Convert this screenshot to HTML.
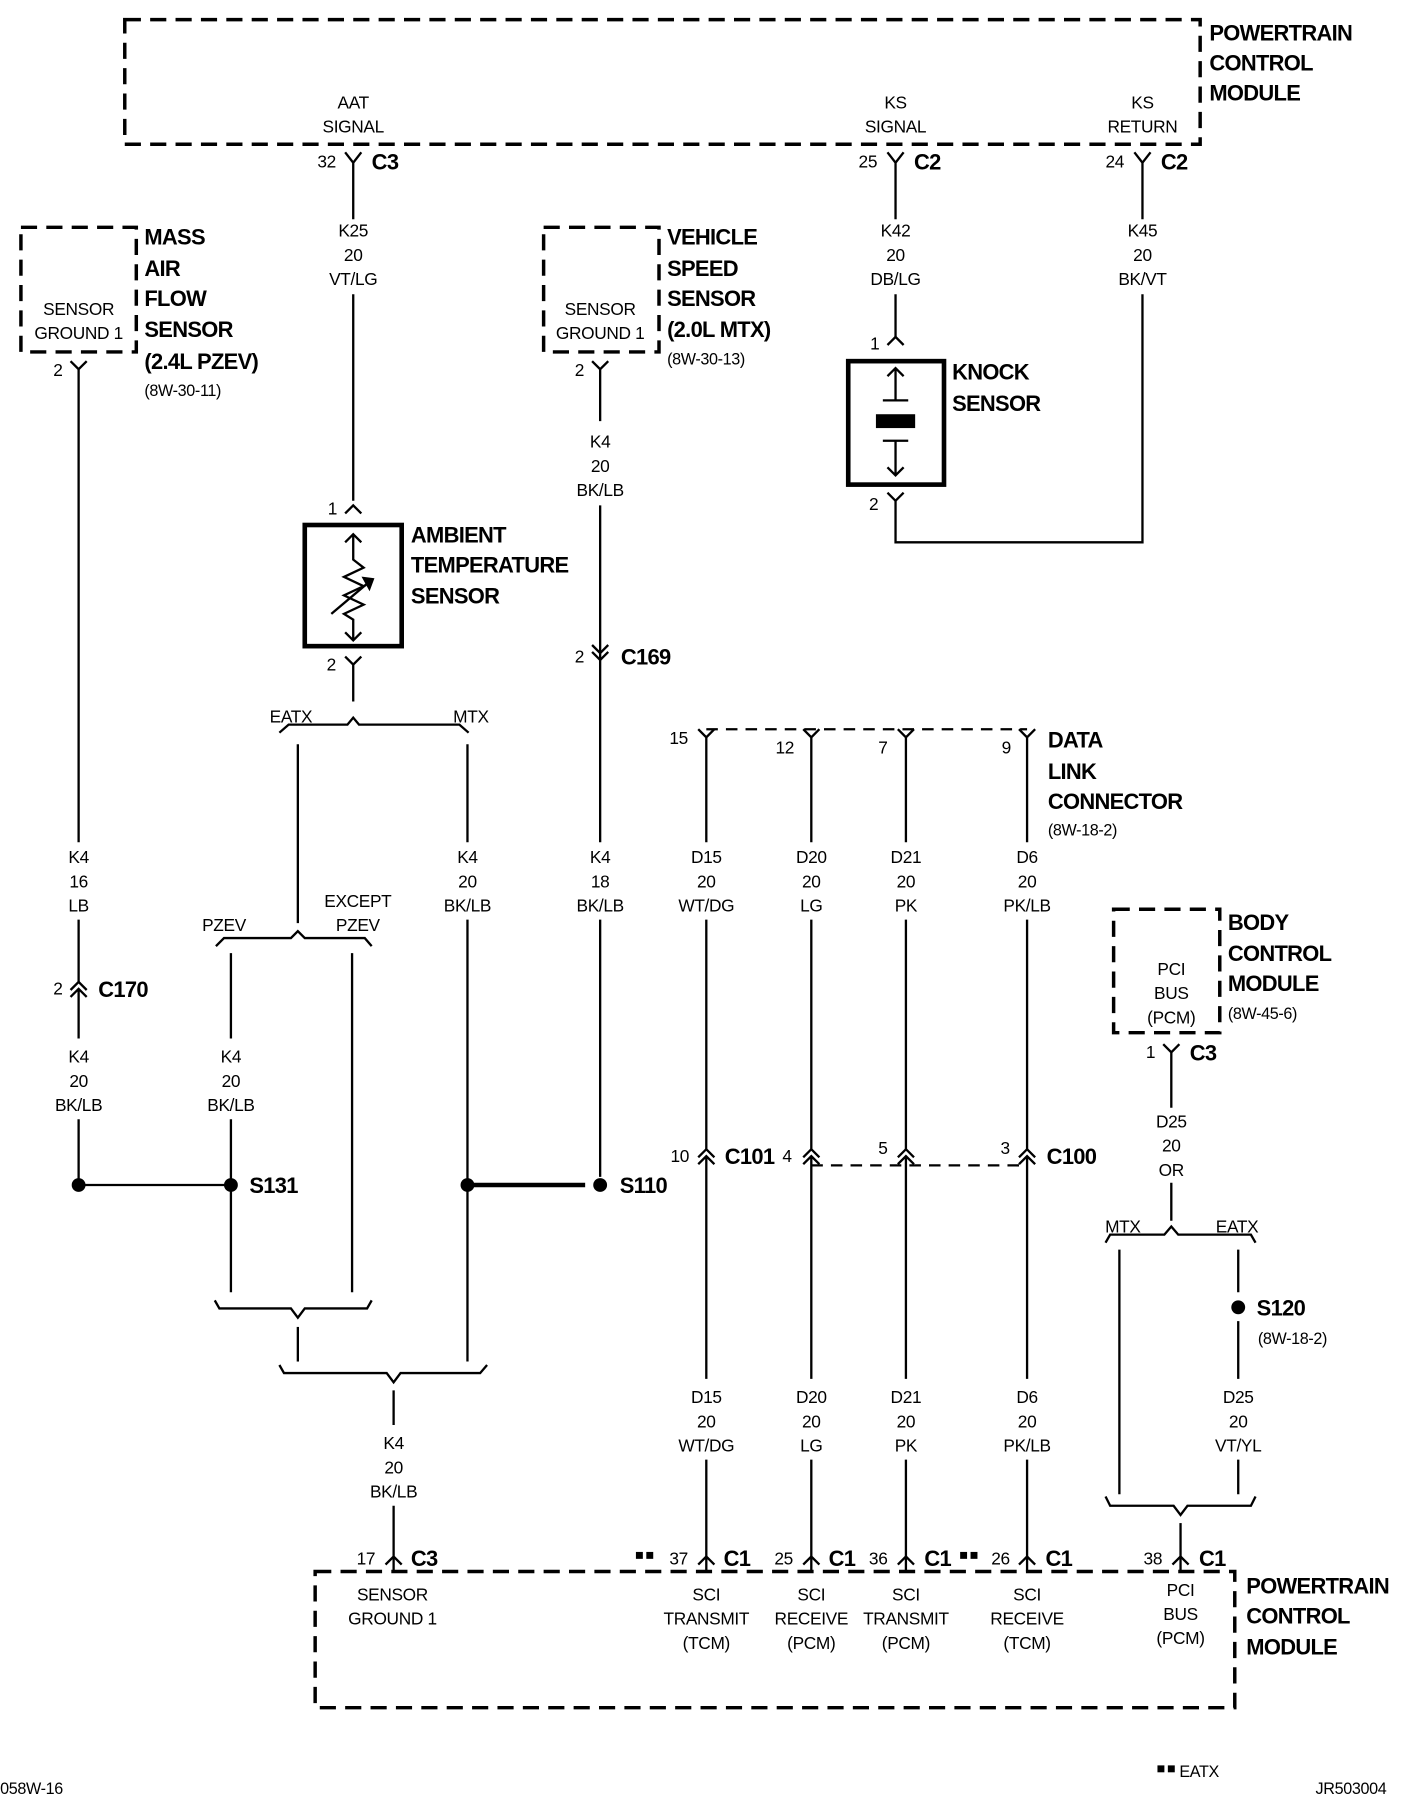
<!DOCTYPE html>
<html><head><meta charset="utf-8"><style>
html,body{margin:0;padding:0;background:#fff}
svg{display:block}
text{font-family:"Liberation Sans Narrow","Liberation Sans",sans-serif;fill:#000}
.s{font-size:15px;text-anchor:middle;letter-spacing:-0.3px}
.sl{font-size:15px}
.b{font-size:19px;font-weight:bold;letter-spacing:-0.6px}
.r{font-size:14px;letter-spacing:-0.3px}
</style></head><body>
<svg width="1408" height="1800" viewBox="0 0 1220 1560" xmlns="http://www.w3.org/2000/svg">
<g fill="none" stroke="#000" stroke-width="2">
<rect x="108" y="17" width="932" height="108" stroke-width="3" stroke-dasharray="14,8"/>
<rect x="18" y="197" width="100" height="108" stroke-width="3" stroke-dasharray="14,8"/>
<rect x="471" y="197" width="100" height="108" stroke-width="3" stroke-dasharray="14,8"/>
<rect x="965" y="788" width="92" height="107" stroke-width="3" stroke-dasharray="14,8"/>
<rect x="273" y="1362" width="797" height="118" stroke-width="3" stroke-dasharray="14,8"/>

<path d="M299,132 L306,141 L313,132 M306,141 V190 M306,255 V434"/>
<path d="M769,132 L776,141 L783,132 M776,141 V190 M776,255 V292"/>
<path d="M983,132 L990,141 L997,132 M990,141 V190 M990,255 V470 H776 V434"/>
<path d="M769,427 L776,434 L783,427"/>
<path d="M61,313 L68,320 L75,313 M68,320 V730 M68,797 V851"/>
<path d="M513,313 L520,320 L527,313 M520,320 V365 M520,438 V730 M520,797 V1020"/>
<path d="M513,559 L520,566 L527,559 M513,565 L520,572 L527,565"/>
<path d="M61,858 L68,851 L75,858 M61,864 L68,857 L75,864 M68,857 V900 M68,970 V1027"/>
<path d="M299,445 L306,438 L313,445"/>
<rect x="264" y="455" width="84" height="105" stroke-width="4"/>
<path d="M299,470 L306,463 L313,470 M306,463 V485 L315,492 L298,500 L315,508 L298,516 L315,524 L298,532 L306,537 V555 M299,548 L306,555 L313,548"/>
<path d="M287,532 L319,505"/>
<path d="M315,501 L323,502 L320,510 Z" fill="#000"/>
<path d="M299,569 L306,576 L313,569 M306,576 V608"/>
<path d="M242,635 L250,628 H301 L306,622 L311,628 H398 L406,635"/>
<path d="M258,645 V800 M405,645 V730 M405,797 V1180"/>
<path d="M187,820 L194,813 H252 L258,807 L264,813 H316 L322,820"/>
<path d="M200,826 V900 M200,970 V1120 M305,826 V1120"/>
<path d="M186,1127 L190,1134 H252 L258,1142 L264,1134 H318 L322,1127"/>
<path d="M258,1150 V1180"/>
<path d="M242,1183 L246,1190 H335 L341,1198 L347,1190 H416 L422,1183"/>
<path d="M341,1205 V1235 M341,1305 V1349 M334,1356 L341,1349 L348,1356 M341,1349 V1362"/>
<path d="M68,1027 H200"/>
<path d="M405,1027 H507" stroke-width="4"/>
<path d="M769,299 L776,292 L783,299"/>
<rect x="735" y="313" width="83" height="107" stroke-width="4"/>
<path d="M769,326 L776,319 L783,326 M776,319 V347 M765,347 H787 M765,382 H787 M776,382 V412 M769,405 L776,412 L783,405"/>
<rect x="759" y="359" width="34" height="12" fill="#000" stroke="none"/>
<path d="M612,632 H890" stroke-dasharray="10,7"/>
<path d="M605,632 L612,639 L619,632 M612,639 V730 M612,797 V996"/>
<path d="M696,632 L703,639 L710,632 M703,639 V730 M703,797 V996"/>
<path d="M778,632 L785,639 L792,632 M785,639 V730 M785,797 V996"/>
<path d="M883,632 L890,639 L897,632 M890,639 V730 M890,797 V996"/>
<path d="M605,1003 L612,996 L619,1003 M605,1009 L612,1002 L619,1009 M612,1002 V1195 M612,1265 V1349"/>
<path d="M696,1003 L703,996 L710,1003 M696,1009 L703,1002 L710,1009 M703,1002 V1195 M703,1265 V1349"/>
<path d="M778,1003 L785,996 L792,1003 M778,1009 L785,1002 L792,1009 M785,1002 V1195 M785,1265 V1349"/>
<path d="M883,1003 L890,996 L897,1003 M883,1009 L890,1002 L897,1009 M890,1002 V1195 M890,1265 V1349"/>
<path d="M703,1010 H890" stroke-dasharray="10,7"/>
<path d="M605,1356 L612,1349 L619,1356 M612,1349 V1362"/>
<path d="M696,1356 L703,1349 L710,1356 M703,1349 V1362"/>
<path d="M778,1356 L785,1349 L792,1356 M785,1349 V1362"/>
<path d="M883,1356 L890,1349 L897,1356 M890,1349 V1362"/>
<path d="M1016,1356 L1023,1349 L1030,1356 M1023,1349 V1362"/>
<path d="M1008,905 L1015,912 L1022,905 M1015,912 V960 M1015,1025 V1058"/>
<path d="M958,1077 L962,1070 H1009 L1015,1063 L1021,1070 H1084 L1088,1077"/>
<path d="M970,1083 V1295 M1073,1083 V1120 M1073,1145 V1195 M1073,1265 V1295"/>
<path d="M958,1297 L962,1305 H1017 L1023,1313 L1029,1305 H1084 L1088,1297"/>
<path d="M1023,1320 V1349"/>
</g>
<g fill="#000">
<circle cx="68" cy="1027" r="6"/><circle cx="200" cy="1027" r="6"/>
<circle cx="405" cy="1027" r="6"/><circle cx="520" cy="1027" r="6"/>
<circle cx="1073" cy="1133" r="6"/>
<rect x="551" y="1345" width="6" height="6"/><rect x="560" y="1345" width="6" height="6"/>
<rect x="832" y="1345" width="6" height="6"/><rect x="841" y="1345" width="6" height="6"/>
<rect x="1003" y="1530" width="6" height="6"/><rect x="1012" y="1530" width="6" height="6"/>
</g>
<g>
<text class="b" x="1048" y="35">POWERTRAIN</text><text class="b" x="1048" y="61">CONTROL</text><text class="b" x="1048" y="87">MODULE</text>
<text class="s" x="306" y="94">AAT</text><text class="s" x="306" y="115">SIGNAL</text>
<text class="s" x="776" y="94">KS</text><text class="s" x="776" y="115">SIGNAL</text>
<text class="s" x="990" y="94">KS</text><text class="s" x="990" y="115">RETURN</text>
<text class="s" x="283" y="145">32</text><text class="b" x="322" y="147">C3</text>
<text class="s" x="752" y="145">25</text><text class="b" x="792" y="147">C2</text>
<text class="s" x="966" y="145">24</text><text class="b" x="1006" y="147">C2</text>
<text class="s" x="306" y="205">K25</text><text class="s" x="306" y="226">20</text><text class="s" x="306" y="247">VT/LG</text>
<text class="s" x="776" y="205">K42</text><text class="s" x="776" y="226">20</text><text class="s" x="776" y="247">DB/LG</text>
<text class="s" x="990" y="205">K45</text><text class="s" x="990" y="226">20</text><text class="s" x="990" y="247">BK/VT</text>
<text class="s" x="68" y="273">SENSOR</text><text class="s" x="68" y="294">GROUND 1</text>
<text class="b" x="125" y="212">MASS</text><text class="b" x="125" y="239">AIR</text><text class="b" x="125" y="265">FLOW</text><text class="b" x="125" y="292">SENSOR</text><text class="b" x="125" y="320">(2.4L PZEV)</text>
<text class="r" x="125" y="343">(8W-30-11)</text>
<text class="s" x="50" y="326">2</text>
<text class="s" x="520" y="273">SENSOR</text><text class="s" x="520" y="294">GROUND 1</text>
<text class="b" x="578" y="212">VEHICLE</text><text class="b" x="578" y="239">SPEED</text><text class="b" x="578" y="265">SENSOR</text><text class="b" x="578" y="292">(2.0L MTX)</text>
<text class="r" x="578" y="316">(8W-30-13)</text>
<text class="s" x="502" y="326">2</text>
<text class="s" x="520" y="388">K4</text><text class="s" x="520" y="409">20</text><text class="s" x="520" y="430">BK/LB</text>
<text class="s" x="502" y="574">2</text><text class="b" x="538" y="576">C169</text>
<text class="s" x="758" y="303">1</text>
<text class="b" x="825" y="329">KNOCK</text><text class="b" x="825" y="356">SENSOR</text>
<text class="s" x="757" y="442">2</text>
<text class="s" x="288" y="446">1</text>
<text class="b" x="356" y="470">AMBIENT</text><text class="b" x="356" y="496">TEMPERATURE</text><text class="b" x="356" y="523">SENSOR</text>
<text class="s" x="287" y="581">2</text>
<text class="s" x="252" y="626">EATX</text><text class="s" x="408" y="626">MTX</text>
<text class="s" x="68" y="748">K4</text><text class="s" x="68" y="769">16</text><text class="s" x="68" y="790">LB</text>
<text class="s" x="405" y="748">K4</text><text class="s" x="405" y="769">20</text><text class="s" x="405" y="790">BK/LB</text>
<text class="s" x="520" y="748">K4</text><text class="s" x="520" y="769">18</text><text class="s" x="520" y="790">BK/LB</text>
<text class="s" x="310" y="786">EXCEPT</text><text class="s" x="310" y="807">PZEV</text>
<text class="s" x="194" y="807">PZEV</text>
<text class="s" x="50" y="862">2</text><text class="b" x="85" y="864">C170</text>
<text class="s" x="68" y="921">K4</text><text class="s" x="68" y="942">20</text><text class="s" x="68" y="963">BK/LB</text>
<text class="s" x="200" y="921">K4</text><text class="s" x="200" y="942">20</text><text class="s" x="200" y="963">BK/LB</text>
<text class="b" x="216" y="1034">S131</text><text class="b" x="537" y="1034">S110</text>
<text class="s" x="588" y="645">15</text><text class="s" x="680" y="653">12</text><text class="s" x="765" y="653">7</text><text class="s" x="872" y="653">9</text>
<text class="b" x="908" y="648">DATA</text><text class="b" x="908" y="675">LINK</text><text class="b" x="908" y="701">CONNECTOR</text>
<text class="r" x="908" y="724">(8W-18-2)</text>
<text class="s" x="612" y="748">D15</text><text class="s" x="612" y="769">20</text><text class="s" x="612" y="790">WT/DG</text>
<text class="s" x="703" y="748">D20</text><text class="s" x="703" y="769">20</text><text class="s" x="703" y="790">LG</text>
<text class="s" x="785" y="748">D21</text><text class="s" x="785" y="769">20</text><text class="s" x="785" y="790">PK</text>
<text class="s" x="890" y="748">D6</text><text class="s" x="890" y="769">20</text><text class="s" x="890" y="790">PK/LB</text>
<text class="s" x="589" y="1007">10</text><text class="b" x="628" y="1009">C101</text>
<text class="s" x="682" y="1007">4</text><text class="s" x="765" y="1000">5</text><text class="s" x="871" y="1000">3</text>
<text class="b" x="907" y="1009">C100</text>
<text class="s" x="612" y="1216">D15</text><text class="s" x="612" y="1237">20</text><text class="s" x="612" y="1258">WT/DG</text>
<text class="s" x="703" y="1216">D20</text><text class="s" x="703" y="1237">20</text><text class="s" x="703" y="1258">LG</text>
<text class="s" x="785" y="1216">D21</text><text class="s" x="785" y="1237">20</text><text class="s" x="785" y="1258">PK</text>
<text class="s" x="890" y="1216">D6</text><text class="s" x="890" y="1237">20</text><text class="s" x="890" y="1258">PK/LB</text>
<text class="s" x="341" y="1256">K4</text><text class="s" x="341" y="1277">20</text><text class="s" x="341" y="1298">BK/LB</text>
<text class="s" x="1015" y="845">PCI</text><text class="s" x="1015" y="866">BUS</text><text class="s" x="1015" y="887">(PCM)</text>
<text class="b" x="1064" y="806">BODY</text><text class="b" x="1064" y="833">CONTROL</text><text class="b" x="1064" y="859">MODULE</text>
<text class="r" x="1064" y="883">(8W-45-6)</text>
<text class="s" x="997" y="917">1</text><text class="b" x="1031" y="919">C3</text>
<text class="s" x="1015" y="977">D25</text><text class="s" x="1015" y="998">20</text><text class="s" x="1015" y="1019">OR</text>
<text class="s" x="973" y="1068">MTX</text><text class="s" x="1072" y="1068">EATX</text>
<text class="b" x="1089" y="1140">S120</text><text class="r" x="1090" y="1165">(8W-18-2)</text>
<text class="s" x="1073" y="1216">D25</text><text class="s" x="1073" y="1237">20</text><text class="s" x="1073" y="1258">VT/YL</text>
<text class="s" x="317" y="1356">17</text><text class="b" x="356" y="1357">C3</text>
<text class="s" x="588" y="1356">37</text><text class="b" x="627" y="1357">C1</text>
<text class="s" x="679" y="1356">25</text><text class="b" x="718" y="1357">C1</text>
<text class="s" x="761" y="1356">36</text><text class="b" x="801" y="1357">C1</text>
<text class="s" x="867" y="1356">26</text><text class="b" x="906" y="1357">C1</text>
<text class="s" x="999" y="1356">38</text><text class="b" x="1039" y="1357">C1</text>
<text class="s" x="340" y="1387">SENSOR</text><text class="s" x="340" y="1408">GROUND 1</text>
<text class="s" x="612" y="1387">SCI</text><text class="s" x="612" y="1408">TRANSMIT</text><text class="s" x="612" y="1429">(TCM)</text>
<text class="s" x="703" y="1387">SCI</text><text class="s" x="703" y="1408">RECEIVE</text><text class="s" x="703" y="1429">(PCM)</text>
<text class="s" x="785" y="1387">SCI</text><text class="s" x="785" y="1408">TRANSMIT</text><text class="s" x="785" y="1429">(PCM)</text>
<text class="s" x="890" y="1387">SCI</text><text class="s" x="890" y="1408">RECEIVE</text><text class="s" x="890" y="1429">(TCM)</text>
<text class="s" x="1023" y="1383">PCI</text><text class="s" x="1023" y="1404">BUS</text><text class="s" x="1023" y="1425">(PCM)</text>
<text class="b" x="1080" y="1381">POWERTRAIN</text><text class="b" x="1080" y="1407">CONTROL</text><text class="b" x="1080" y="1434">MODULE</text>
<text class="r" x="0" y="1555">058W-16</text>
<text class="r" x="1022" y="1540">EATX</text>
<text class="r" x="1140" y="1555">JR503004</text>
</g>
</svg>
</body></html>
